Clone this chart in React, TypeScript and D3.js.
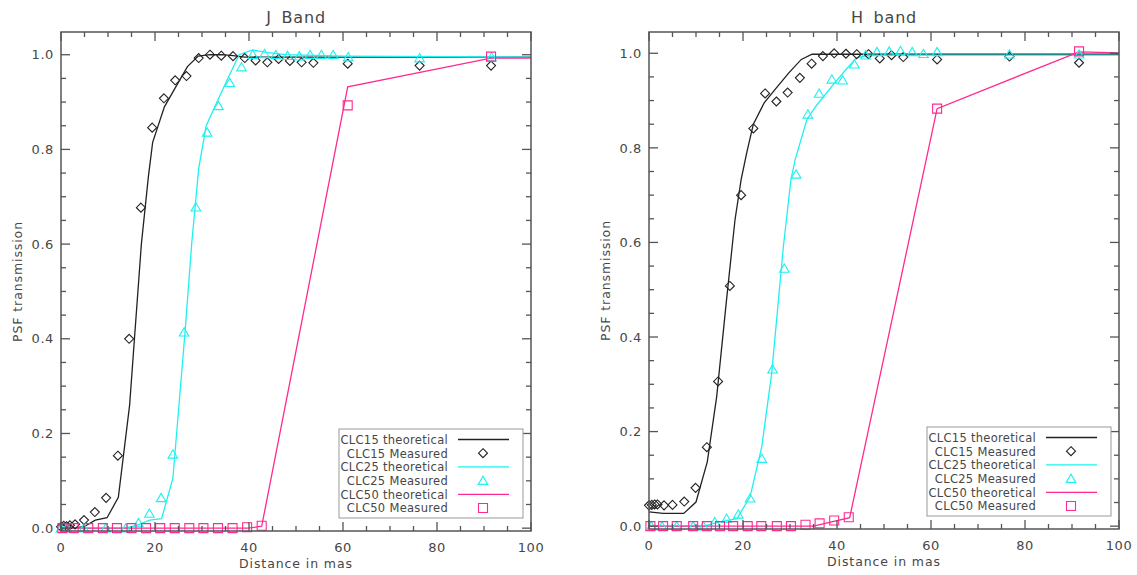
import React, { useEffect, useRef } from 'react';
import * as d3 from 'd3';

// J band, values
const jTh15X = [0, 2.4, 4.9, 7.3, 9.8, 12.2, 14.6, 15.7, 17.1, 18.6, 19.5, 22.0, 24.3, 26.9, 29.2, 31.7, 34.2, 36.6, 39.1, 100];
const jTh15Y = [0, 0, 0.003, 0.017, 0.022, 0.065, 0.26, 0.41, 0.6, 0.743, 0.815, 0.89, 0.93, 0.975, 0.997, 1.0, 1.0, 0.998, 0.995, 0.995];
const jMe15X = [0, 0.6, 1.2, 1.9, 3.0, 4.9, 7.2, 9.6, 12.1, 14.5, 17.0, 19.4, 21.9, 24.3, 26.7, 29.3, 31.7, 34.1, 36.6, 39.1, 41.4, 43.9, 46.3, 48.7, 51.2, 53.7, 61.0, 76.3, 91.5];
const jMe15Y = [0.003, 0.005, 0.004, 0.006, 0.008, 0.017, 0.034, 0.064, 0.153, 0.4, 0.677, 0.846, 0.908, 0.946, 0.955, 0.993, 1.0, 0.998, 0.997, 0.993, 0.988, 0.984, 0.991, 0.987, 0.984, 0.983, 0.981, 0.977, 0.977];
const jTh25X = [0, 13.6, 16.1, 18.9, 21.4, 23.8, 26.4, 27.8, 29.3, 30.9, 33.4, 35.7, 37.9, 40.8, 43.6, 47.8, 60, 100];
const jTh25Y = [0, 0, 0.006, 0.017, 0.02, 0.105, 0.415, 0.6, 0.76, 0.85, 0.905, 0.954, 1.0, 1.01, 1.005, 1.0, 0.997, 0.995];
const jMe25X = [0, 1.2, 4.9, 9.5, 13.8, 16.5, 18.8, 21.3, 23.8, 26.2, 28.7, 31.1, 33.5, 35.9, 38.4, 40.8, 43.3, 45.7, 48.2, 50.7, 53.0, 55.4, 57.9, 61.1, 76.3, 91.6];
const jMe25Y = [0, 0, 0, 0, 0, 0.011, 0.031, 0.064, 0.156, 0.414, 0.678, 0.836, 0.892, 0.941, 0.974, 1.0, 1.002, 1.0, 0.998, 0.997, 1.0, 1.0, 1.0, 0.995, 0.993, 0.995];
const jTh50X = [0, 39.8, 42.7, 61.0, 91.5, 100];
const jTh50Y = [0, 0, 0.004, 0.932, 0.993, 0.993];
const jMe50X = [0.3, 2.7, 5.8, 8.9, 11.9, 15.0, 18.1, 21.1, 24.2, 27.3, 30.3, 33.4, 36.5, 39.6, 42.7, 61.0, 91.5];
const jMe50Y = [0, 0, 0, 0, 0, 0, 0, 0, 0, 0, 0, 0, 0, 0.002, 0.005, 0.893, 0.996];

// H band
const hTh15X = [0, 3.0, 7.4, 10.0, 12.4, 14.4, 16.5, 18.3, 19.6, 20.8, 22.2, 24.5, 27.1, 29.8, 32.4, 34.7, 40, 100];
const hTh15Y = [0.03, 0.027, 0.027, 0.051, 0.136, 0.274, 0.479, 0.648, 0.733, 0.79, 0.85, 0.895, 0.927, 0.959, 0.987, 0.998, 0.998, 0.998];
const hMe15X = [0, 0.6, 1.2, 1.8, 3.2, 5.0, 7.5, 9.9, 12.3, 14.7, 17.2, 19.6, 22.2, 24.7, 27.1, 29.5, 32.1, 34.6, 37.0, 39.4, 41.9, 44.2, 46.7, 49.1, 51.6, 54.1, 61.3, 76.7, 91.5];
const hMe15Y = [0.044, 0.045, 0.046, 0.046, 0.044, 0.045, 0.052, 0.081, 0.167, 0.306, 0.508, 0.70, 0.841, 0.915, 0.898, 0.917, 0.948, 0.978, 0.994, 1.0, 0.999, 0.998, 0.998, 0.989, 0.996, 0.992, 0.987, 0.993, 0.98];
const hTh25X = [0, 11.6, 15.1, 18.7, 21.5, 24.0, 26.1, 28.6, 30.2, 31.1, 33.6, 35.5, 38.9, 41.6, 44.2, 47, 100];
const hTh25Y = [0, 0, 0.009, 0.016, 0.062, 0.168, 0.323, 0.592, 0.733, 0.775, 0.86, 0.888, 0.93, 0.962, 0.991, 0.996, 0.996];
const hMe25X = [0.5, 2.8, 5.9, 9.4, 11.6, 14.0, 16.5, 19.0, 21.5, 24.0, 26.3, 28.8, 31.3, 33.8, 36.2, 38.9, 41.2, 43.7, 46.1, 48.5, 51.1, 53.5, 56.0, 58.4, 61.3, 76.7, 91.5];
const hMe25Y = [0, 0, 0, 0, 0, 0.009, 0.016, 0.025, 0.059, 0.143, 0.332, 0.545, 0.744, 0.871, 0.915, 0.945, 0.943, 0.977, 0.996, 1.003, 1.004, 1.005, 1.003, 0.999, 1.003, 0.998, 0.998];
const hTh50X = [0, 35.0, 42.7, 61.3, 91.5, 100];
const hTh50Y = [0, 0, 0.018, 0.883, 1.003, 1.001];
const hMe50X = [0.3, 3.0, 5.9, 9.4, 12.3, 15.1, 17.9, 21.0, 23.9, 27.2, 30.2, 33.3, 36.3, 39.4, 42.5, 61.3, 91.5];
const hMe50Y = [0, 0, 0, 0, 0, 0, 0, 0, 0, 0, 0, 0.003, 0.006, 0.012, 0.019, 0.883, 1.004];

const legendLabels = ['CLC15 theoretical', 'CLC15 Measured', 'CLC25 theoretical', 'CLC25 Measured', 'CLC50 theoretical', 'CLC50 Measured'];
const xTicks = [0, 20, 40, 60, 80, 100];
const yTicks = [0, 0.2, 0.4, 0.6, 0.8, 1.0];

const BLACK = '#222222';
const CYAN = '#1ff0f0';
const PINK = '#ff2a8f';
const TEXT = '#474747';
const AXIS = '#555555';
const FONT = '"DejaVu Sans", sans-serif';

const zip = (xs: number[], ys: number[]) => xs.map((x, i) => [x, ys[i]] as [number, number]);

const markerPath = (shape: string) => {
  if (shape === 'diamond') return 'M0,-4.5L4.5,0L0,4.5L-4.5,0Z';
  if (shape === 'triangle') return 'M0,-4.5L4.8,3.8L-4.8,3.8Z';
  return 'M-4.5,-4.5L4.5,-4.5L4.5,4.5L-4.5,4.5Z';
};

const drawPanel = (svg: any, p: any) => {
  const x = d3.scaleLinear().domain([0, 100]).range([p.x0, p.x1]);
  const y = d3.scaleLinear().domain([-0.006, p.yMax]).range([p.yBot, p.yTop]);
  const g = svg.append('g');

  // title
  g.append('text')
    .attr('x', (p.x0 + p.x1) / 2).attr('y', 23)
    .attr('text-anchor', 'middle')
    .style('font-size', '16px').style('letter-spacing', '0.8px').style('word-spacing', '4px')
    .attr('fill', TEXT).text(p.title);

  // theoretical lines
  const line = d3.line().x((d: any) => x(d[0])).y((d: any) => y(d[1]));
  p.theory.forEach((s: any) => {
    g.append('path').attr('d', line(zip(s.xs, s.ys)))
      .attr('fill', 'none').attr('stroke', s.color).attr('stroke-width', 1.3);
  });

  // measured markers
  p.measured.forEach((s: any) => {
    g.append('g').selectAll('path')
      .data(zip(s.xs, s.ys))
      .enter().append('path')
      .attr('transform', (d: any) => `translate(${x(d[0])},${y(d[1])})`)
      .attr('d', markerPath(s.shape))
      .attr('fill', 'none').attr('stroke', s.color).attr('stroke-width', 1.1);
  });

  // frame and ticks on all four sides, pointing inward
  g.append('rect')
    .attr('x', p.x0).attr('y', p.yTop)
    .attr('width', p.x1 - p.x0).attr('height', p.yBot - p.yTop)
    .attr('fill', 'none').attr('stroke', AXIS).attr('stroke-width', 1.5);

  d3.range(0, 101, 5).forEach((v: number) => {
    const len = v % 20 === 0 ? 9 : 5;
    g.append('line').attr('x1', x(v)).attr('x2', x(v)).attr('y1', p.yBot).attr('y2', p.yBot - len)
      .attr('stroke', AXIS).attr('stroke-width', 1.3);
    g.append('line').attr('x1', x(v)).attr('x2', x(v)).attr('y1', p.yTop).attr('y2', p.yTop + len)
      .attr('stroke', AXIS).attr('stroke-width', 1.3);
  });
  d3.range(0, 21).forEach((i: number) => {
    const v = i * 0.05;
    const len = i % 4 === 0 ? 9 : 5;
    g.append('line').attr('x1', p.x0).attr('x2', p.x0 + len).attr('y1', y(v)).attr('y2', y(v))
      .attr('stroke', AXIS).attr('stroke-width', 1.3);
    g.append('line').attr('x1', p.x1).attr('x2', p.x1 - len).attr('y1', y(v)).attr('y2', y(v))
      .attr('stroke', AXIS).attr('stroke-width', 1.3);
  });

  xTicks.forEach((v) => {
    g.append('text').attr('x', x(v)).attr('y', p.yBot + 21)
      .attr('text-anchor', 'middle').style('font-size', '13px').style('letter-spacing', '0.6px')
      .attr('fill', TEXT).text(d3.format('d')(v));
  });
  yTicks.forEach((v) => {
    g.append('text').attr('x', p.x0 - 7).attr('y', y(v) + 4.7)
      .attr('text-anchor', 'end').style('font-size', '13px').style('letter-spacing', '0.6px')
      .attr('fill', TEXT).text(d3.format('.1f')(v));
  });

  g.append('text')
    .attr('x', (p.x0 + p.x1) / 2).attr('y', p.yBot + 37)
    .attr('text-anchor', 'middle').style('font-size', '12.5px').style('letter-spacing', '0.9px')
    .attr('fill', TEXT).text('Distance in mas');
  g.append('text')
    .attr('transform', `translate(${p.x0 - 39},${(p.yTop + p.yBot) / 2}) rotate(-90)`)
    .attr('text-anchor', 'middle').style('font-size', '12.5px').style('letter-spacing', '0.9px')
    .attr('fill', TEXT).text('PSF transmission');

  // legend
  const lx = p.x1 - 192;
  const ly = p.yBot - 102;
  const leg = g.append('g').attr('transform', `translate(${lx},${ly})`);
  leg.append('rect').attr('x', 0).attr('y', 0).attr('width', 184).attr('height', 89)
    .attr('fill', 'white').attr('stroke', '#999999').attr('stroke-width', 1);
  const entries = [
    { kind: 'line', color: BLACK },
    { kind: 'diamond', color: BLACK },
    { kind: 'line', color: CYAN },
    { kind: 'triangle', color: CYAN },
    { kind: 'line', color: PINK },
    { kind: 'square', color: PINK },
  ];
  entries.forEach((e, i) => {
    const ry = 10.5 + i * 13.7;
    leg.append('text').attr('x', 109).attr('y', ry + 4.3)
      .attr('text-anchor', 'end').style('font-size', '11.5px').style('letter-spacing', '0.3px')
      .attr('fill', TEXT).text(legendLabels[i]);
    if (e.kind === 'line') {
      leg.append('line').attr('x1', 119).attr('x2', 170).attr('y1', ry).attr('y2', ry)
        .attr('stroke', e.color).attr('stroke-width', 1.3);
    } else {
      leg.append('path').attr('transform', `translate(144,${ry})`)
        .attr('d', markerPath(e.kind)).attr('fill', 'none')
        .attr('stroke', e.color).attr('stroke-width', 1.1);
    }
  });
};

const App = () => {
  const svgRef = useRef<SVGSVGElement>(null);

  useEffect(() => {
    const svg = d3.select(svgRef.current);
    svg.selectAll('*').remove();
    svg.append('rect').attr('width', 1137).attr('height', 575).attr('fill', 'white');

    drawPanel(svg, {
      title: 'J Band', x0: 61, x1: 531, yTop: 32, yBot: 531, yMax: 1.048,
      theory: [
        { xs: jTh15X, ys: jTh15Y, color: BLACK },
        { xs: jTh25X, ys: jTh25Y, color: CYAN },
        { xs: jTh50X, ys: jTh50Y, color: PINK },
      ],
      measured: [
        { xs: jMe15X, ys: jMe15Y, color: BLACK, shape: 'diamond' },
        { xs: jMe25X, ys: jMe25Y, color: CYAN, shape: 'triangle' },
        { xs: jMe50X, ys: jMe50Y, color: PINK, shape: 'square' },
      ],
    });
    drawPanel(svg, {
      title: 'H band', x0: 649, x1: 1119, yTop: 32, yBot: 529, yMax: 1.045,
      theory: [
        { xs: hTh15X, ys: hTh15Y, color: BLACK },
        { xs: hTh25X, ys: hTh25Y, color: CYAN },
        { xs: hTh50X, ys: hTh50Y, color: PINK },
      ],
      measured: [
        { xs: hMe15X, ys: hMe15Y, color: BLACK, shape: 'diamond' },
        { xs: hMe25X, ys: hMe25Y, color: CYAN, shape: 'triangle' },
        { xs: hMe50X, ys: hMe50Y, color: PINK, shape: 'square' },
      ],
    });
  }, []);

  return (
    <svg
      ref={svgRef}
      width={1137}
      height={575}
      style={{ position: 'absolute', left: 0, top: 0, fontFamily: FONT }}
    />
  );
};

export default App;
